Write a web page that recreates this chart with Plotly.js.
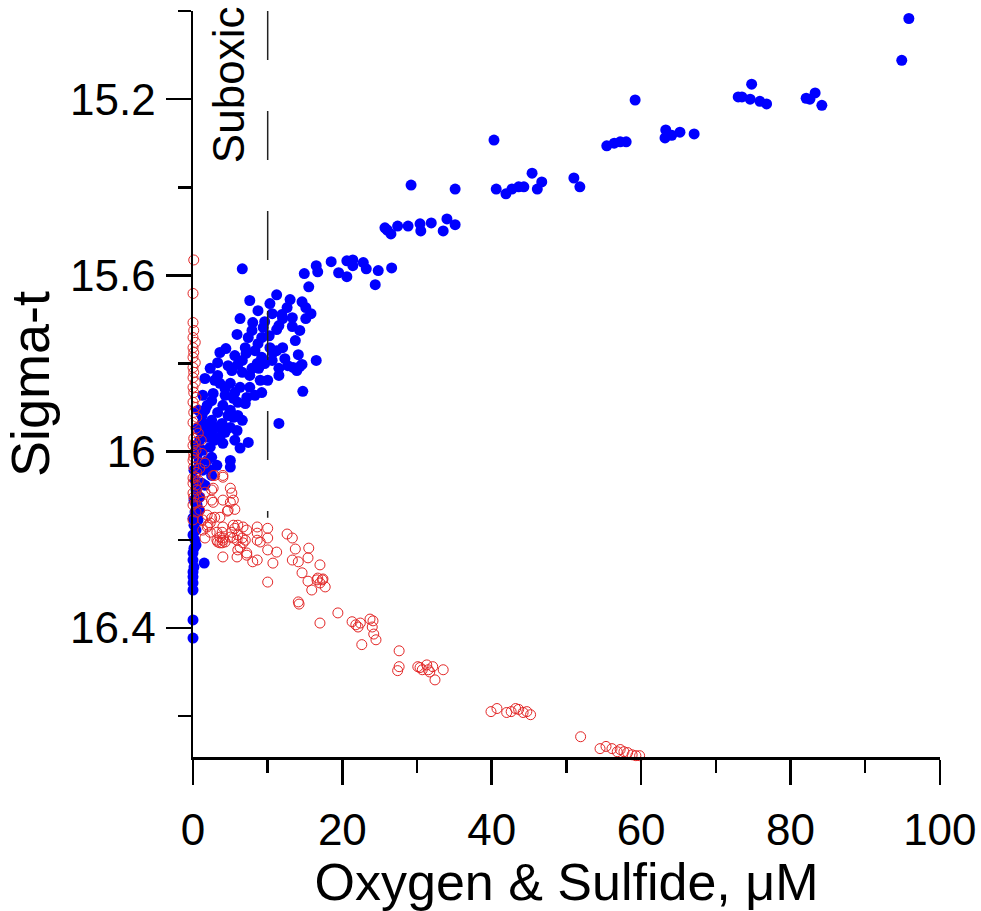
<!DOCTYPE html>
<html>
<head>
<meta charset="utf-8">
<script src="https://cdn.plot.ly/plotly-3.0.1.min.js"></script>
<style>html,body{margin:0;padding:0;background:#fff;}#chart{width:981px;height:911px;}</style>
</head>
<body>
<div id="chart"></div>
<script>
// Oxygen (filled blue) : x = concentration (µM), y = sigma-t
var oxygenX = [95.85,94.9,74.8,73.0,73.5,74.6,75.9,76.8,82.1,82.6,83.3,84.2,59.2,63.3,64.1,65.2,67.1,63.2,55.4,56.4,57.2,58.0,40.3,29.2,35.1,40.6,41.9,42.7,43.6,44.3,45.4,46.1,46.7,51.0,51.8,
25.7,26.0,26.5,27.4,28.8,30.4,30.5,31.9,34.0,33.5,35.1,6.6,14.9,16.5,16.7,18.5,19.5,20.6,20.6,21.4,21.4,22.8,23.2,24.8,26.6,24.4,15.5,11.2,13.0,12.6,14.6,15.1,15.8,15.1,11.9,12.0,13.3,10.6,8.0,6.3,9.6,9.4,10.2,11.2,11.5,
12.0,8.7,7.0,8.3,7.1,10.3,10.7,14.1,16.5,5.9,9.2,10.6,11.2,9.6,12.7,13.4,14.3,14.6,13.9,14.7,11.5,11.5,8.6,8.8,7.9,7.6,9.0,6.6,6.0,4.7,5.2,6.6,3.3,2.9,3.6,5.0,6.3,7.6,8.3,7.2,7.0,6.0,5.4,4.3,2.7,2.5,1.9,4.0,5.0,4.7,5.4,6.0,6.6,5.0,3.9,3.2,2.5,2.0,1.2,1.3,1.6,
11.5,7.4,5.0,5.0,3.2,2.5,2.9,3.6,4.0,2.3,1.3,1.9,0.9,1.6,0.7,1.5,2.5,1.2,0.9,0,0,0,0,0,
0.13,0.27,0.4,0.13,0.54,0.27,0,0.13,0.4,0,0.27,0.13,0,0.4,0,0.13,0,0.67,0.8,0.54,0.8,1.3,1.9,0.9,0.4,
9.2,7.9,7.4,4.4,3.6,5.6,3.3,2.3,1.6,4.3,5.6,9.2,10.0,12.3,13.7,14.3,13.3,8.7,10.3,7.6,2.5,3.3,4.3,5.9,6.3,5.6,1.3,0.7,1.6,2.3];
var oxygenY = [15.017,15.112,15.166,15.195,15.195,15.2,15.205,15.211,15.198,15.2,15.186,15.214,15.202,15.270,15.282,15.275,15.279,15.288,15.306,15.300,15.297,15.297,15.293,15.395,15.404,15.404,15.415,15.404,15.399,15.399,15.368,15.404,15.388,15.379,15.399,
15.492,15.497,15.506,15.488,15.488,15.483,15.499,15.481,15.472,15.499,15.485,15.585,15.596,15.578,15.592,15.569,15.594,15.603,15.567,15.565,15.578,15.571,15.585,15.589,15.583,15.621,15.626,15.644,15.655,15.673,15.660,15.673,15.687,15.698,15.689,15.698,15.696,15.687,15.707,15.698,15.705,15.718,15.737,15.723,15.714,
15.764,15.755,15.764,15.771,15.777,15.764,15.775,15.780,15.793,15.734,15.786,15.793,15.771,15.800,15.805,15.809,15.807,15.802,15.816,15.863,15.811,15.827,15.800,15.811,15.811,15.827,15.838,15.793,15.802,15.805,15.816,15.820,15.827,15.838,15.845,15.845,15.854,15.854,15.872,15.877,15.891,15.888,15.879,15.872,15.868,15.884,15.895,15.895,15.906,15.918,15.922,15.918,15.929,15.945,15.936,15.945,15.956,15.940,15.918,15.934,15.906,
15.936,15.979,16.020,16.035,16.031,16.013,15.974,15.967,15.981,15.990,15.997,15.967,15.974,15.956,15.945,16.253,16.054,16.072,16.103,16.284,16.298,16.314,16.382,16.423,
16.042,16.065,16.087,16.110,16.121,16.137,16.151,16.167,16.178,16.189,16.201,16.219,16.230,16.212,16.246,16.262,16.273,16.155,16.133,16.008,16.024,16.042,16.020,15.952,15.986,
15.741,15.725,15.741,15.766,15.775,15.782,15.798,15.811,15.834,15.857,15.866,15.866,15.838,15.789,15.748,15.725,15.716,15.680,15.664,15.657,15.929,15.911,15.956,15.952,15.992,15.974,15.872,15.906,16.076,16.042];

// Sulfide (open red circles)
var sulfideX = [0.1,0,0,0.1,0,0.3,0,0.1,0,0.3,0,0.1,0,0.3,0,0.1,0.4,0,0.3,0.1,0.5,0,0.4,0.7,0.1,
1.1,1.2,1.6,0.9,0.1,0.1,0.3,2.7,4.0,2.7,5.0,5.2,5.4,4.7,3.6,2.5,1.9,1.3,3.2,4.0,5.4,6.7,3.6,4.0,5.9,6.0,8.6,8.6,6.3,7.2,8.0,4.0,
0.3,0,0,0.5,0.9,1.2,1.6,2.5,2.5,2.7,4.0,5.0,5.6,4.6,2.9,2.3,1.9,1.3,0.9,0.3,0.1,0.1,4.0,2.9,
10.0,8.6,10.0,9.0,6.0,5.6,7.2,5.2,3.9,3.6,4.0,3.3,3.9,5.0,5.4,6.6,6.7,6.0,5.9,7.2,8.6,7.0,4.3,3.2,1.6,2.3,2.0,
10.0,11.2,10.7,10.0,12.6,13.3,13.7,13.3,14.1,15.5,15.4,17.0,14.6,15.4,16.6,16.7,17.3,17.4,17.0,15.9,17.7,14.1,14.2,17.0,19.4,
21.3,21.8,22.1,22.4,23.7,24.1,24.0,24.2,22.6,24.5,
27.6,27.6,27.4,30.1,30.4,30.7,31.3,31.5,31.7,32.1,32.4,33.5,
39.9,40.7,42.0,42.6,43.2,43.6,44.2,44.7,45.2,51.9,
54.5,55.3,56.1,56.8,57.2,57.7,58.2,58.8,59.3,59.8,
0,0.4,0,0.5,0,0.4,0.7,0,0.4,0];
var sulfideY = [15.565,15.641,15.707,15.725,15.741,15.752,15.764,15.775,15.786,15.798,15.809,15.820,15.832,15.843,15.854,15.866,15.877,15.888,15.900,15.911,15.922,15.934,15.947,15.958,15.970,
15.974,16.004,16.026,16.038,16.035,16.004,15.979,16.054,16.058,16.083,16.083,16.094,16.110,16.133,16.149,16.151,16.171,16.178,16.183,16.171,16.167,16.171,16.207,16.201,16.201,16.189,16.171,16.201,16.217,16.230,16.250,16.239,
16.058,16.072,16.094,16.087,16.103,16.115,16.092,16.087,16.110,16.115,16.110,16.115,16.131,16.135,16.149,16.162,16.144,16.155,16.133,16.117,16.103,16.013,16.054,16.054,
16.174,16.185,16.196,16.205,16.167,16.174,16.178,16.183,16.183,16.194,16.196,16.205,16.207,16.194,16.196,16.196,16.207,16.223,16.239,16.235,16.246,16.201,16.205,16.201,16.196,16.183,16.167,
16.223,16.228,16.253,16.296,16.187,16.196,16.221,16.246,16.250,16.219,16.241,16.257,16.275,16.294,16.291,16.287,16.291,16.289,16.298,16.314,16.307,16.341,16.346,16.389,16.366,
16.386,16.393,16.398,16.389,16.380,16.384,16.398,16.414,16.438,16.427,
16.452,16.488,16.497,16.488,16.490,16.495,16.484,16.495,16.500,16.488,16.518,16.495,
16.590,16.583,16.592,16.590,16.583,16.585,16.592,16.590,16.597,16.647,
16.674,16.669,16.674,16.681,16.676,16.681,16.683,16.688,16.690,16.690,
15.986,15.997,16.020,16.047,16.060,16.076,16.065,16.121,16.137,16.155];

var suboxicX = 10;          // suboxic boundary (µM)
var suboxicTop = 15.0, suboxicBottom = 16.15;

var FONT = 'Arial, "Liberation Sans", sans-serif';

var traces = [
  {x: oxygenX, y: oxygenY, type: 'scatter', mode: 'markers', name: 'Oxygen',
   marker: {color: '#0000ff', size: 11, line: {width: 0}}, cliponaxis: false},
  {x: sulfideX, y: sulfideY, type: 'scatter', mode: 'markers', name: 'Sulfide',
   marker: {symbol: 'circle-open', color: '#e32626', size: 10, line: {width: 1, color: '#e32626'}}, cliponaxis: false}
];

var layout = {
  width: 981, height: 911,
  margin: {l: 193, r: 41, t: 11, b: 154},
  paper_bgcolor: '#fff', plot_bgcolor: '#fff',
  showlegend: false,
  font: {family: FONT, color: '#000'},
  xaxis: {
    range: [0, 100.02], dtick: 20, tick0: 0,
    showline: true, linecolor: '#000', linewidth: 2.5,
    ticks: 'outside', ticklen: 25, tickwidth: 2.5, tickcolor: '#000',
    minor: {dtick: 10, ticks: 'outside', ticklen: 13, tickwidth: 2.5, tickcolor: '#000', showgrid: false},
    showgrid: false, zeroline: false,
    tickfont: {size: 44, family: FONT},
    ticklabelstandoff: 8,
    title: {text: 'Oxygen &amp; Sulfide, μM', font: {size: 52, family: FONT}, standoff: 12}
  },
  yaxis: {
    range: [16.693, 15.0], tick0: 15.2, dtick: 0.4,
    showline: true, linecolor: '#000', linewidth: 2.5,
    ticks: 'outside', ticklen: 25, tickwidth: 2.5, tickcolor: '#000',
    minor: {dtick: 0.2, ticks: 'outside', ticklen: 13, tickwidth: 2.5, tickcolor: '#000', showgrid: false},
    showgrid: false, zeroline: false,
    tickfont: {size: 44, family: FONT},
    ticklabelstandoff: 1,
    title: {text: 'Sigma-t', font: {size: 54, family: FONT}, standoff: 10}
  },
  shapes: [
    {type: 'line', xref: 'x', yref: 'y', x0: suboxicX, x1: suboxicX, y0: suboxicTop, y1: suboxicBottom,
     line: {color: '#222', width: 1.5, dash: '49px,51px'}}
  ],
  annotations: [
    {x: 4.7, y: 15.168, xref: 'x', yref: 'y', text: 'Suboxic', showarrow: false, textangle: -90,
     font: {size: 44, family: FONT, color: '#000'}}
  ]
};

Plotly.newPlot('chart', traces, layout, {displayModeBar: false, staticPlot: true});
</script>
</body>
</html>
